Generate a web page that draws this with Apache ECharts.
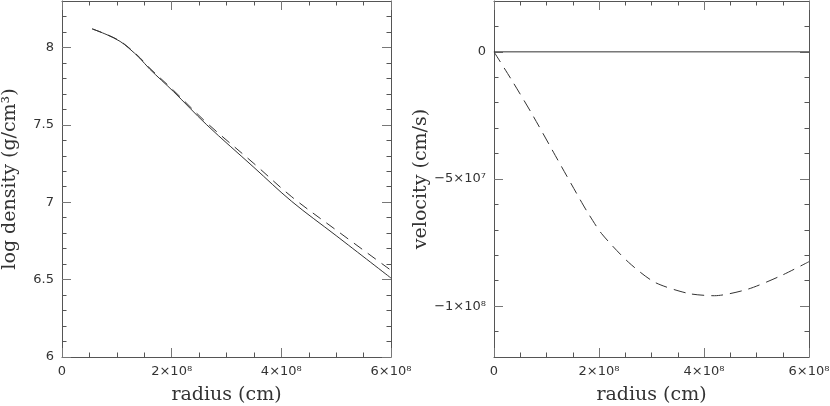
<!DOCTYPE html>
<html>
<head>
<meta charset="utf-8">
<script src="https://cdn.jsdelivr.net/npm/echarts@6/dist/echarts.min.js"></script>
<style>html,body{margin:0;padding:0;background:#fff}#c{width:830px;height:406px}</style>
</head>
<body>
<div id="c"></div>
<script>
// ---- data ----
const densityR      = [0.55e8, 0.82e8, 1.06e8, 1.22e8, 1.42e8, 1.6e8, 2.03e8, 2.64e8, 3.5e8, 4.19e8, 5.0e8, 6.0e8];
const densitySolid  = [8.12, 8.082, 8.039, 7.995, 7.93, 7.86, 7.716, 7.50, 7.225, 7.005, 6.784, 6.51];
const densityDashed = [8.12, 8.083, 8.041, 7.998, 7.934, 7.866, 7.724, 7.513, 7.25, 7.035, 6.82, 6.56];

const velocityR      = [0, 0.34e8, 0.72e8, 1.22e8, 1.67e8, 1.8e8, 2.05e8, 2.56e8, 3.06e8, 3.7e8, 4.2e8, 4.84e8, 5.47e8, 6.0e8];
const velocityDashed = [0, -11.2e6, -24.3e6, -42.7e6, -59.2e6, -63.7e6, -71.5e6, -82.7e6, -90.6e6, -95.0e6, -95.9e6, -93.3e6, -88.0e6, -82.5e6];
const velocityZeroR  = [0, 6e8];
const velocityZero   = [0, 0];

// ticks
const xMajor = [0, 2e8, 4e8, 6e8];
const xMinor = [0.5e8, 1e8, 1.5e8, 2.5e8, 3e8, 3.5e8, 4.5e8, 5e8, 5.5e8];
const xLabels = ['0', '2×10⁸', '4×10⁸', '6×10⁸'];

const densMajor = [6, 6.5, 7, 7.5, 8];
const densMinor = [6.1, 6.2, 6.3, 6.4, 6.6, 6.7, 6.8, 6.9, 7.1, 7.2, 7.3, 7.4, 7.6, 7.7, 7.8, 7.9, 8.1, 8.2];
const densLabels = ['6', '6.5', '7', '7.5', '8'];

const velMajor = [-1e8, -5e7, 0];
const velMinor = [-1.1e8, -9e7, -8e7, -7e7, -6e7, -4e7, -3e7, -2e7, -1e7, 1e7];
const velLabels = ['−1×10⁸', '−5×10⁷', '0'];

const AX = '#555';
const TXT = '#333';
const SERIF = '"DejaVu Serif", serif';
const SANS = '"DejaVu Sans", sans-serif';

function sideAxes(gridIndex, pos, min, max, majors, minors, labelFn, name, nameGap, showLabel) {
  const base = {
    type: 'value', gridIndex, position: pos, min, max,
    splitLine: {show: false},
    axisLine: {onZero: false, show: false},
  };
  const major = Object.assign({}, base, {
    axisLine: {onZero: false, show: true, lineStyle: {color: AX, width: 1}},
    axisTick: {show: true, inside: true, length: 9, customValues: majors, lineStyle: {color: '#777', width: 1}},
    axisLabel: showLabel ? {
      show: true, customValues: majors, formatter: labelFn,
      fontFamily: SANS, fontSize: 13, color: TXT, margin: 8
    } : {show: false},
  });
  if (name) {
    Object.assign(major, {
      name, nameLocation: 'middle', nameGap,
      nameTextStyle: {fontFamily: SERIF, fontSize: 19, color: TXT}
    });
  }
  const minor = Object.assign({}, base, {
    axisTick: {show: true, inside: true, length: 4.5, customValues: minors, lineStyle: {color: AX, width: 1}},
    axisLabel: {show: false},
  });
  return [major, minor];
}

function pick(majors, labels, tol) {
  return function (v) { const i = majors.findIndex(m => Math.abs(m - v) < tol); return i >= 0 ? labels[i] : ''; };
}
const xLabelFn = pick(xMajor, xLabels, 1);
const densLabelFn = pick(densMajor, densLabels, 1e-6);
const velLabelFn = pick(velMajor, velLabels, 1);

const xAxes = [];
const yAxes = [];
// grid 0 (density)
xAxes.push(...sideAxes(0, 'bottom', 0, 6e8, xMajor, xMinor, xLabelFn, 'radius (cm)', 29, true)); // 0,1
xAxes.push(...sideAxes(0, 'top', 0, 6e8, xMajor, xMinor, null, null, 0, false));                 // 2,3
yAxes.push(...sideAxes(0, 'left', 6, 8.3, densMajor, densMinor, densLabelFn, 'log density (g/cm³)', 42, true)); // 0,1
yAxes.push(...sideAxes(0, 'right', 6, 8.3, densMajor, densMinor, null, null, 0, false));        // 2,3
// grid 1 (velocity)
xAxes.push(...sideAxes(1, 'bottom', 0, 6e8, xMajor, xMinor, xLabelFn, 'radius (cm)', 29, true)); // 4,5
xAxes.push(...sideAxes(1, 'top', 0, 6e8, xMajor, xMinor, null, null, 0, false));                 // 6,7
yAxes.push(...sideAxes(1, 'left', -1.2e8, 2e7, velMajor, velMinor, velLabelFn, 'velocity (cm/s)', 62, true)); // 4,5
yAxes.push(...sideAxes(1, 'right', -1.2e8, 2e7, velMajor, velMinor, null, null, 0, false));     // 6,7

const zip = (a, b) => a.map((v, i) => [v, b[i]]);
const LINE = '#333';

const option = {
  animation: false,
  backgroundColor: '#fff',
  grid: [
    {left: 62, top: 1, width: 329, bottom: 49, outerBoundsMode: 'none', containLabel: false},
    {left: 494, top: 1, width: 315, bottom: 49, outerBoundsMode: 'none', containLabel: false}
  ],
  xAxis: xAxes,
  yAxis: yAxes,
  series: [
    {type: 'line', xAxisIndex: 0, yAxisIndex: 0, data: zip(densityR, densitySolid), smooth: 0.35, showSymbol: false,
     lineStyle: {color: LINE, width: 1}},
    {type: 'line', xAxisIndex: 0, yAxisIndex: 0, data: zip(densityR, densityDashed), smooth: 0.35, showSymbol: false,
     lineStyle: {color: LINE, width: 1, type: [10, 7]}},
    {type: 'line', xAxisIndex: 4, yAxisIndex: 4, data: zip(velocityZeroR, velocityZero), showSymbol: false,
     lineStyle: {color: LINE, width: 1}},
    {type: 'line', xAxisIndex: 4, yAxisIndex: 4, data: zip(velocityR, velocityDashed), smooth: 0.25, showSymbol: false,
     lineStyle: {color: LINE, width: 1, type: [12, 7]}}
  ]
};
const chart = echarts.init(document.getElementById('c'), null, {renderer: 'canvas'});
chart.setOption(option);
</script>
</body>
</html>
